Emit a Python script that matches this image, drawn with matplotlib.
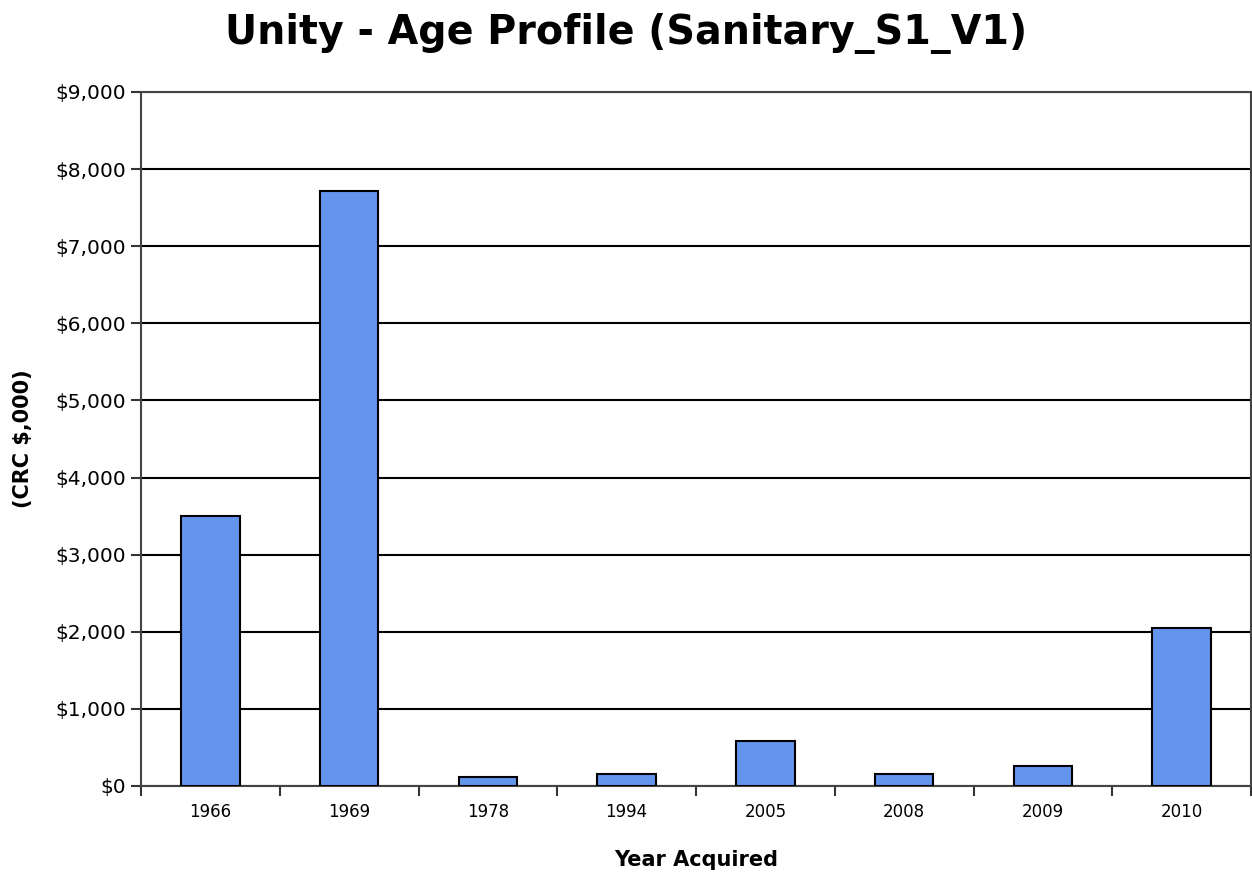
import numpy as np
import matplotlib.pyplot as plt
from matplotlib.ticker import FuncFormatter

# data
years = ['1966', '1969', '1978', '1994', '2005', '2008', '2009', '2010']
crc_values = [3500, 7720, 115, 160, 585, 160, 260, 2045]

fig = plt.figure(figsize=(12.52, 8.74), dpi=100)
ax = fig.add_axes([141 / 1252, 1 - 786 / 874, 1110 / 1252, 694 / 874])

x = np.arange(len(years))
ax.bar(x, crc_values, width=0.42, color='#6495ED', edgecolor='black', linewidth=1.5, zorder=3)

ax.set_xlim(-0.5, len(years) - 0.5)
ax.set_ylim(0, 9000)
ax.set_yticks(np.arange(0, 9001, 1000))
ax.yaxis.set_major_formatter(FuncFormatter(lambda v, p: f'${v:,.0f}'))
ax.yaxis.grid(True, color='black', linewidth=1.5, zorder=0)

# tick marks on category boundaries, labels centred under bars
ax.set_xticks(np.arange(-0.5, len(years) + 0.5, 1))
ax.set_xticklabels([])
ax.set_xticks(x, minor=True)
ax.set_xticklabels(years, minor=True, fontsize=12)
ax.tick_params(axis='x', which='minor', length=0, pad=12)
ax.tick_params(axis='x', which='major', length=7, width=1.5, direction='out', color='#333333')
ax.tick_params(axis='y', length=7, width=1.5, labelsize=14.5, color='#333333', pad=4)

for s in ax.spines.values():
    s.set_color('#444444')
    s.set_linewidth(1.5)

ax.set_xlabel('Year Acquired', fontsize=15, fontweight='bold', labelpad=21)
ax.set_ylabel('(CRC $,000)', fontsize=15, fontweight='bold', labelpad=16)
fig.text(0.5, 1 - 33 / 874, 'Unity - Age Profile (Sanitary_S1_V1)', fontsize=28.5,
         fontweight='bold', ha='center', va='center')

plt.savefig('out.png', dpi=100)
